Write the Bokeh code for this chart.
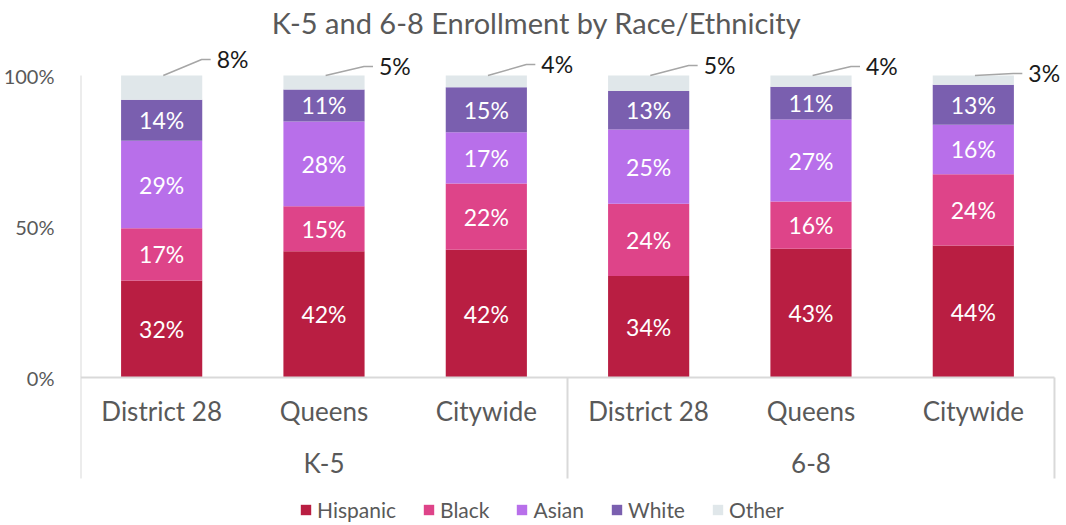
from bokeh.plotting import figure
from bokeh.models import ColumnDataSource, Legend, LegendItem, FixedTicker, Range1d
from bokeh.core.properties import value
from bokeh.embed import file_html
from bokeh.resources import INLINE

# ---------------- data ----------------
title_text = "K-5 and 6-8 Enrollment by Race/Ethnicity"
groups = ["K-5", "6-8"]
categories = ["District 28", "Queens", "Citywide", "District 28", "Queens", "Citywide"]
series = ["Hispanic", "Black", "Asian", "White", "Other"]
hispanic = [32.1, 41.8, 42.3, 33.6, 42.6, 43.7]
black = [17.3, 14.9, 21.9, 23.9, 15.7, 23.6]
asian = [29.0, 28.1, 17.0, 24.6, 27.1, 16.4]
white = [13.6, 10.6, 14.9, 12.8, 10.9, 13.2]
other = [8.0, 4.6, 3.9, 5.1, 3.7, 3.1]
y_ticks = [0, 50, 100]
y_tick_labels = ["0%", "50%", "100%"]

colors = ["#B91E42", "#DE4489", "#B86FEA", "#7A5FAF", "#E0E7EA"]
FONT = "Lato"
GRAY = "#595959"

# ---------------- layout helpers (page pixels -> data units) ----------------
ZERO_PX = 377.0      # page y of 0%
PX_PER_PCT = 3.02    # pixels per percentage point
FRAME_LEFT = 80.0
PX_PER_CAT = 162.33
FIG_W, FIG_H = 1066, 522

def ypx(py):
    return (ZERO_PX - py) / PX_PER_PCT

def xpx(px):
    return (px - FRAME_LEFT) / PX_PER_CAT

n = len(categories)
xs = [i + 0.5 for i in range(n)]

p = figure(width=FIG_W, height=FIG_H, x_range=Range1d(0, xpx(FIG_W)),
           y_range=Range1d(ypx(FIG_H), ypx(0)),
           output_backend="svg", toolbar_location=None, x_axis_location=None,
           min_border_left=int(FRAME_LEFT), min_border_right=0,
           min_border_top=0, min_border_bottom=0)
p.grid.visible = False
p.outline_line_color = None
p.background_fill_color = "white"

yax = p.yaxis[0]
yax.ticker = FixedTicker(ticks=y_ticks)
yax.major_label_overrides = {t: l for t, l in zip(y_ticks, y_tick_labels)}
yax.axis_line_color = None
yax.major_tick_line_color = None
yax.minor_tick_line_color = None
yax.major_label_text_font = FONT
yax.major_label_text_font_size = "20px"
yax.major_label_text_color = GRAY
yax.major_label_standoff = 20

# ---------------- bars ----------------
src = ColumnDataSource(dict(x=xs, Hispanic=hispanic, Black=black, Asian=asian, White=white, Other=other))
rends = p.vbar_stack(series, x="x", width=0.5, color=colors, line_color=None, source=src)

# axis lines / dividers
line_col = "#D9D9D9"
p.segment(x0=[0], y0=[0], x1=[0], y1=[100], line_color=line_col, line_width=2)
p.segment(x0=[0], y0=[0], x1=[n], y1=[0], line_color=line_col, line_width=2)
p.segment(x0=[0, 3, 6], y0=[0, 0, 0], x1=[0, 3, 6], y1=[ypx(478)] * 3, line_color=line_col, line_width=2)

# in-bar labels (white)
lab_x, lab_y, lab_t = [], [], []
for i in range(n):
    vals = [hispanic[i], black[i], asian[i], white[i]]
    base = 0.0
    for v in vals:
        lab_x.append(xs[i]); lab_y.append(base + v / 2); lab_t.append(f"{round(v):d}%")
        base += v
p.text(x=lab_x, y=lab_y, text=lab_t, text_color="white", text_font=value(FONT),
       text_font_size="23px", text_align="center", text_baseline="middle")

# "Other" labels with leader lines
other_label_py = [58, 65, 63, 64, 65, 72]
bend_dx = 40 / PX_PER_CAT
end_dx = 49 / PX_PER_CAT
text_dx = 55 / PX_PER_CAT
for i in range(n):
    top = hispanic[i] + black[i] + asian[i] + white[i] + other[i]
    yl = ypx(other_label_py[i] + 1)
    p.line(x=[xs[i] + 0.01, xs[i] + bend_dx, xs[i] + end_dx], y=[top, yl, yl],
           line_color="#A6A6A6", line_width=1.5)
p.text(x=[x + text_dx for x in xs], y=[ypx(v) for v in other_label_py],
       text=[f"{round(v):d}%" for v in other], text_color="#1a1a1a", text_font=value(FONT),
       text_font_size="23px", text_align="left", text_baseline="middle")

# category labels and group labels
p.text(x=xs, y=[ypx(410)] * n, text=categories, text_color=GRAY, text_font=value(FONT),
       text_font_size="26px", text_align="center", text_baseline="middle")
p.text(x=[1.5, 4.5], y=[ypx(462)] * 2, text=groups, text_color=GRAY, text_font=value(FONT),
       text_font_size="26px", text_align="center", text_baseline="middle")

# title
p.text(x=[xpx(536)], y=[ypx(22)], text=[title_text], text_color=GRAY, text_font=value(FONT),
       text_font_size="29px", text_align="center", text_baseline="middle")

# legend
legend = Legend(items=[LegendItem(label=s, renderers=[r]) for s, r in zip(series, rends)],
                orientation="horizontal", location=(299 - FRAME_LEFT, 0), margin=0, padding=0,
                border_line_color=None, background_fill_alpha=0,
                label_text_font=FONT, label_text_font_size="21px", label_text_color=GRAY,
                glyph_width=13, glyph_height=13, label_standoff=5, spacing=26)
p.add_layout(legend, "center")

open("out.html", "w").write(file_html(p, INLINE))
